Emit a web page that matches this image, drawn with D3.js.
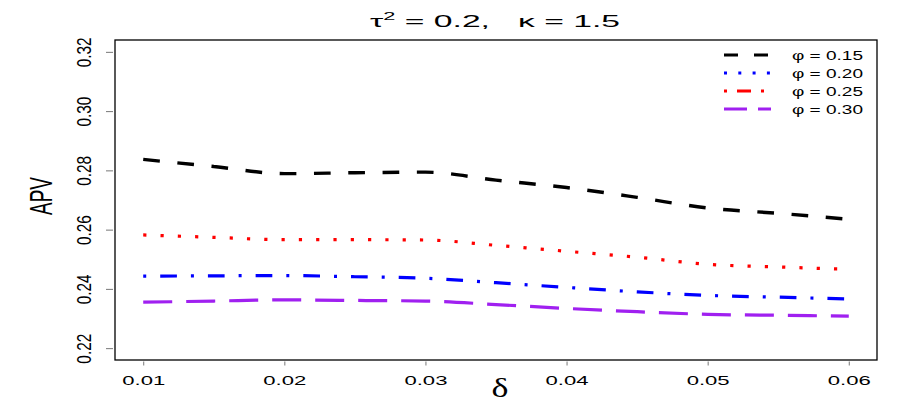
<!DOCTYPE html>
<meta charset="utf-8">
<style>
    body { margin: 0; background: #fff; }
    text { font-family: "Liberation Sans", Arial, sans-serif; fill: #000; }
    .tick line { stroke: #777; }
    .frame { fill: none; stroke: #000; stroke-width: 1.3; }
    .series { fill: none; }
</style>

<svg width="913" height="409"></svg>

<script src="https://d3js.org/d3.v7.min.js"></script>

<script>
// values
var deltas = [0.01, 0.015, 0.02, 0.025, 0.03, 0.035, 0.04, 0.045, 0.05, 0.055, 0.06];
var apvBlack  = [0.2837, 0.2813, 0.2789, 0.2792, 0.2794, 0.2767, 0.2742, 0.2709, 0.2673, 0.2655, 0.2635];
var apvRed    = [0.2582, 0.2574, 0.2566, 0.2566, 0.2565, 0.2547, 0.2527, 0.2507, 0.2483, 0.2474, 0.2466];
var apvBlue   = [0.2443, 0.2444, 0.2445, 0.2441, 0.2436, 0.2421, 0.2405, 0.2390, 0.2378, 0.2372, 0.2366];
var apvPurple = [0.2355, 0.2359, 0.2363, 0.2361, 0.2359, 0.2347, 0.2334, 0.2323, 0.2314, 0.2311, 0.2308];

var xTicks = [0.01, 0.02, 0.03, 0.04, 0.05, 0.06];
var yTicks = [0.22, 0.24, 0.26, 0.28, 0.30, 0.32];
var legendLabels = ["\u03c6 = 0.15", "\u03c6 = 0.20", "\u03c6 = 0.25", "\u03c6 = 0.30"];

// plot lines as drawn in the panel
var series = [
    { values: apvBlack,  color: "#000000", width: 3.4, dash: "16.7,17.6" },
    { values: apvRed,    color: "#ff0000", width: 3.2, dash: "3.2,14.1" },
    { values: apvBlue,   color: "#0000ff", width: 3.2, dash: "3,14,16.7,14" },
    { values: apvPurple, color: "#a020f0", width: 3.2, dash: "29,14" }
];
// legend keys (styles as they appear in the legend box)
var legendKeys = [
    { color: "#000000", dash: "14,16,14,100" },
    { color: "#0000ff", dash: "3,11.3" },
    { color: "#ff0000", dash: "3,10,14,10,3,100" },
    { color: "#a020f0", dash: "23,11,13,100" }
];

var box = { left: 115, top: 40, right: 877, bottom: 360 };

var x = d3.scaleLinear().domain([0.008, 0.062]).range([box.left, box.right]);
var y = d3.scaleLinear().domain([0.216, 0.324]).range([box.bottom, box.top]);

var svg = d3.select("svg");

// squeeze a rotated label along its reading direction to a given length
function fitRotated(sel, len, tx, ty) {
    sel.each(function() {
        var w = this.getComputedTextLength();
        d3.select(this).attr("transform",
            "translate(" + tx + "," + ty + ") rotate(-90) scale(" + (len / w) + ",1)");
    });
}

// lines
var line = d3.line()
    .x(function(d) { return x(d[0]); })
    .y(function(d) { return y(d[1]); })
    .curve(d3.curveMonotoneX);

svg.append("g")
    .selectAll("path")
    .data(series)
    .enter()
    .append("path")
    .attr("class", "series")
    .attr("d", function(s) { return line(deltas.map(function(d, i) { return [d, s.values[i]]; })); })
    .attr("stroke", function(s) { return s.color; })
    .attr("stroke-width", function(s) { return s.width; })
    .attr("stroke-dasharray", function(s) { return s.dash; });

// frame
svg.append("rect")
    .attr("class", "frame")
    .attr("x", box.left).attr("y", box.top)
    .attr("width", box.right - box.left).attr("height", box.bottom - box.top);

// x axis
var gx = svg.append("g")
    .attr("transform", "translate(0," + (box.bottom + 1.5) + ")")
    .call(d3.axisBottom(x).tickValues(xTicks).tickSize(4).tickPadding(10)
        .tickFormat(d3.format(".2f")));
gx.select(".domain").remove();
gx.selectAll("text")
    .attr("font-size", 13.5)
    .attr("font-family", "Liberation Sans")
    .attr("textLength", 43)
    .attr("lengthAdjust", "spacingAndGlyphs");

// y axis
var gy = svg.append("g")
    .attr("transform", "translate(" + (box.left - 2) + ",0)")
    .call(d3.axisLeft(y).tickValues(yTicks).tickSize(7).tickFormat(d3.format(".2f")));
gy.select(".domain").remove();
gy.selectAll("text")
    .attr("x", null).attr("dy", null)
    .attr("text-anchor", "middle")
    .attr("font-size", 20)
    .attr("font-family", "Liberation Sans")
    .call(fitRotated, 30, -22, 0);

// axis titles
svg.append("text")
    .attr("text-anchor", "middle")
    .attr("font-size", 31)
    .text("APV")
    .call(fitRotated, 38, 52, 196);

svg.append("text")
    .attr("x", 500).attr("y", 397)
    .attr("text-anchor", "middle")
    .style("font-family", "'Liberation Serif', serif")
    .attr("font-size", 27)
    .attr("textLength", 17)
    .attr("lengthAdjust", "spacingAndGlyphs")
    .text("\u03b4");

// title, stretched to the reference width
var tg = svg.append("g");
var title = tg.append("text")
    .attr("text-anchor", "middle")
    .attr("font-size", 17);
title.append("tspan").text("\u03c4");
title.append("tspan").attr("font-size", 11).attr("dy", -7).text("2");
title.append("tspan").attr("dy", 7).text("\u00a0=\u00a00.2,\u00a0\u00a0\u00a0\u03ba\u00a0=\u00a01.5");
var tw = title.node().getBBox().width;
tg.attr("transform", "translate(495,27) scale(" + (250 / tw) + ",1)");

// legend
var leg = svg.append("g")
    .selectAll("g")
    .data(legendLabels)
    .enter()
    .append("g")
    .attr("transform", function(_, i) { return "translate(0," + (55 + i * 18) + ")"; });

leg.append("line")
    .attr("x1", 724).attr("x2", 772)
    .attr("stroke", function(_, i) { return legendKeys[i].color; })
    .attr("stroke-width", 3)
    .attr("stroke-dasharray", function(_, i) { return legendKeys[i].dash; });

leg.append("text")
    .attr("x", 792).attr("y", 4.5)
    .attr("font-size", 12.5)
    .attr("textLength", 71)
    .attr("lengthAdjust", "spacingAndGlyphs")
    .text(function(d) { return d; });
</script>
